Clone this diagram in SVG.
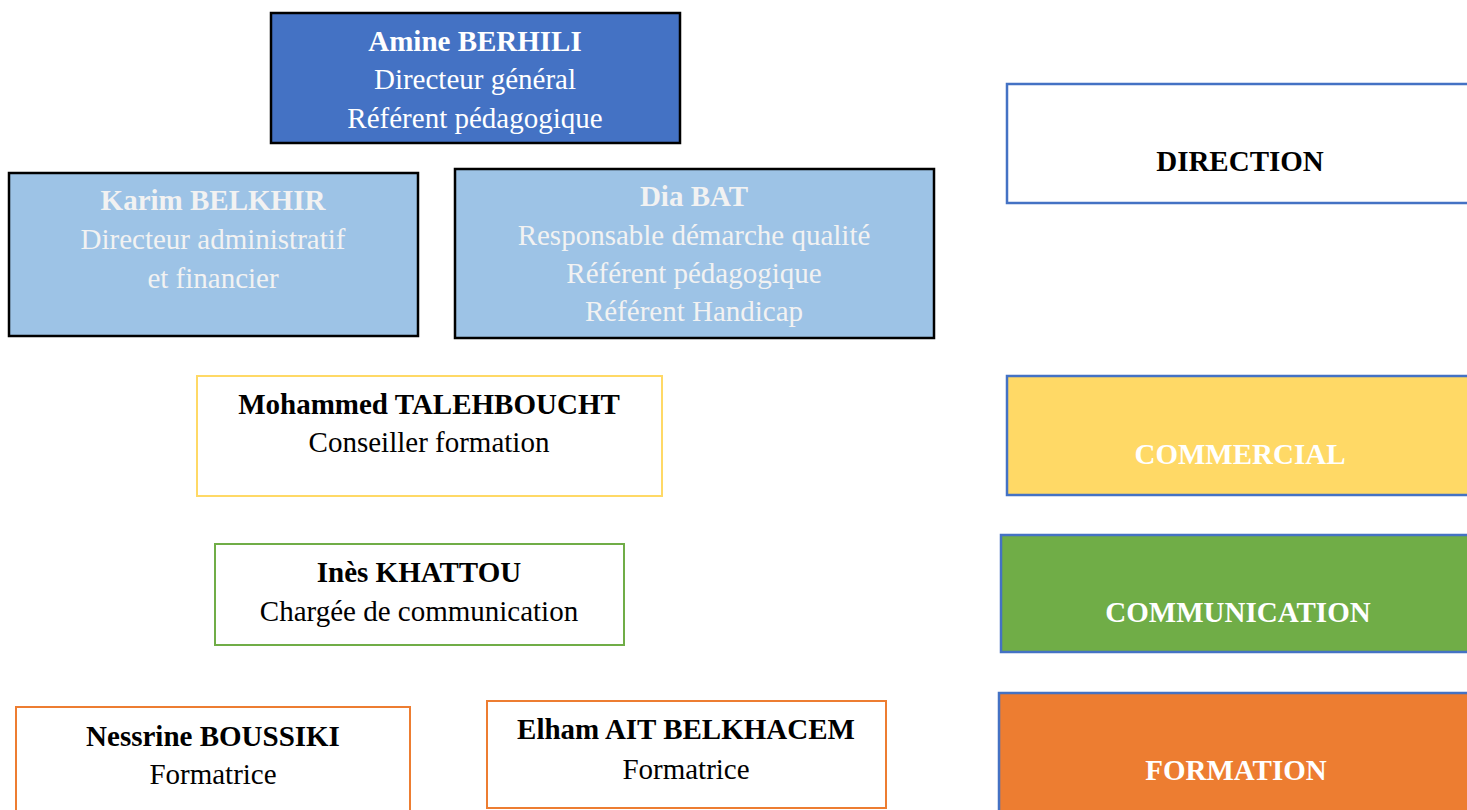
<svg xmlns="http://www.w3.org/2000/svg" width="1467" height="810" viewBox="0 0 1467 810">
<style>
text{font-family:"Liberation Serif","Times New Roman",serif;font-size:29px;text-anchor:middle}
.b{font-weight:bold}
.w{fill:#ffffff}
.lw{fill:#f2f2f2}
.k{fill:#000000}
.person{stroke-width:2}
.dept{stroke:#4472C4;stroke-width:2.5}
</style>
<rect width="1467" height="810" fill="#ffffff"/>
<g id="amine">
<rect x="271" y="13" width="409" height="130" fill="#4472C4" stroke="#000" stroke-width="2.5"/>
<text x="475" y="51" class="b w">Amine BERHILI</text>
<text x="475" y="89" class="w">Directeur général</text>
<text x="475" y="128" class="w">Référent pédagogique</text>
</g>
<g id="karim">
<rect x="9" y="173" width="409" height="163" fill="#9DC3E6" stroke="#000" stroke-width="2.5"/>
<text x="213" y="210" class="b lw">Karim BELKHIR</text>
<text x="213" y="249" class="lw">Directeur administratif</text>
<text x="213" y="288" class="lw">et financier</text>
</g>
<g id="dia">
<rect x="455" y="169" width="479" height="169" fill="#9DC3E6" stroke="#000" stroke-width="2.5"/>
<text x="694" y="206" class="b lw">Dia BAT</text>
<text x="694" y="245" class="lw">Responsable démarche qualité</text>
<text x="694" y="283" class="lw">Référent pédagogique</text>
<text x="694" y="321" class="lw">Référent Handicap</text>
</g>
<g id="direction">
<rect x="1007" y="84" width="470" height="119" fill="#ffffff" class="dept"/>
<text x="1240" y="171" class="b k">DIRECTION</text>
</g>
<g id="mohammed">
<rect x="197" y="376" width="465" height="120" fill="#ffffff" stroke="#FFD966" class="person"/>
<text x="429" y="414" class="b k">Mohammed TALEHBOUCHT</text>
<text x="429" y="452" class="k">Conseiller formation</text>
</g>
<g id="commercial">
<rect x="1007" y="376" width="470" height="119" fill="#FFD966" class="dept"/>
<text x="1240" y="464" class="b w">COMMERCIAL</text>
</g>
<g id="ines">
<rect x="215" y="544" width="409" height="101" fill="#ffffff" stroke="#70AD47" class="person"/>
<text x="419" y="582" class="b k">Inès KHATTOU</text>
<text x="419" y="621" class="k">Chargée de communication</text>
</g>
<g id="communication">
<rect x="1001" y="535" width="476" height="117" fill="#70AD47" class="dept"/>
<text x="1238" y="622" class="b w">COMMUNICATION</text>
</g>
<g id="nessrine">
<rect x="16" y="707" width="394" height="110" fill="#ffffff" stroke="#ED7D31" class="person"/>
<text x="213" y="746" class="b k">Nessrine BOUSSIKI</text>
<text x="213" y="784" class="k">Formatrice</text>
</g>
<g id="elham">
<rect x="487" y="701" width="399" height="107" fill="#ffffff" stroke="#ED7D31" class="person"/>
<text x="686" y="739" class="b k">Elham AIT BELKHACEM</text>
<text x="686" y="779" class="k">Formatrice</text>
</g>
<g id="formation">
<rect x="999" y="693" width="478" height="127" fill="#ED7D31" class="dept"/>
<text x="1236" y="780" class="b w">FORMATION</text>
</g>
<g id="connectors"></g>
</svg>
